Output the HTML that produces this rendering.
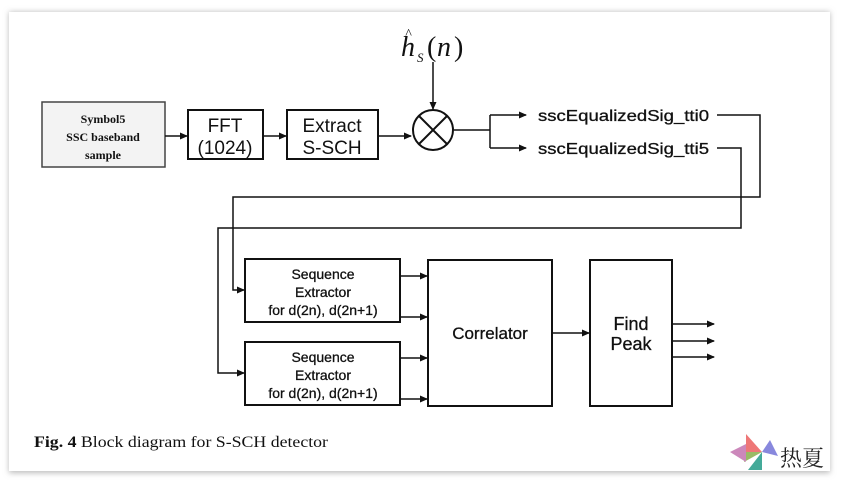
<!DOCTYPE html>
<html><head><style>
body{margin:0;background:#fff;}
</style></head><body>
<svg width="842" height="483" viewBox="0 0 842 483" xmlns="http://www.w3.org/2000/svg" style="display:block">
<defs>
<filter id="sh" x="-5%" y="-5%" width="110%" height="110%"><feGaussianBlur stdDeviation="3"/></filter>
<marker id="a" markerWidth="8" markerHeight="8" refX="7" refY="4" orient="auto" markerUnits="userSpaceOnUse"><path d="M0,0.5 L8,4 L0,7.5z" fill="#111"/></marker>
</defs>
<rect width="842" height="483" fill="#fff"/>
<rect x="9" y="12" width="821" height="461" fill="#bbb" filter="url(#sh)"/>
<rect x="9" y="12" width="821" height="459" fill="#fff"/>
<g font-family="Liberation Sans, sans-serif" fill="#111" stroke="#111">
<rect x="42" y="102" width="123" height="65" fill="#f3f3f3" stroke="#444" stroke-width="1.5"/>
<g stroke="none" font-family="Liberation Serif, serif" font-weight="bold" font-size="12" text-anchor="middle">
<text x="103" y="123">Symbol5</text><text x="103" y="141">SSC baseband</text><text x="103" y="159">sample</text></g>
<rect x="188" y="110" width="75" height="49" fill="#fff" stroke-width="2"/>
<rect x="287" y="110" width="91" height="49" fill="#fff" stroke-width="2"/>
<g stroke="none" font-size="19" text-anchor="middle" stroke="#111" stroke-width="0.3">
<text x="225" y="132">FFT</text><text x="225" y="154">(1024)</text>
<text x="332" y="132">Extract</text><text x="332" y="154">S-SCH</text></g>
<g stroke-width="1.5" fill="none">
<line x1="165" y1="136" x2="187" y2="136" marker-end="url(#a)"/>
<line x1="263" y1="136" x2="286" y2="136" marker-end="url(#a)"/>
<line x1="378" y1="136" x2="411" y2="136" marker-end="url(#a)"/>
<line x1="433" y1="62" x2="433" y2="109" marker-end="url(#a)"/>
</g>
<circle cx="433" cy="130" r="20" fill="#fff" stroke-width="2"/>
<line x1="419" y1="116" x2="447" y2="144" stroke-width="2"/>
<line x1="447" y1="116" x2="419" y2="144" stroke-width="2"/>
<g stroke="none" font-family="Liberation Serif, serif" font-style="italic">
<text x="401" y="56" font-size="28">h</text><text x="405" y="38" font-size="14">^</text>
<text x="417" y="62" font-size="13">S</text><text x="427" y="56" font-size="28" font-style="normal">(</text><text x="437" y="56" font-size="28">n</text><text x="454" y="56" font-size="28" font-style="normal">)</text></g>
<g stroke-width="1.5" fill="none">
<polyline points="454,130 490,130"/>
<polyline points="490,115 490,148"/>
<line x1="490" y1="115" x2="526" y2="115" marker-end="url(#a)"/>
<line x1="490" y1="148" x2="526" y2="148" marker-end="url(#a)"/>
<polyline points="717,115 760,115 760,197 233,197 233,290 244,290" marker-end="url(#a)"/>
<polyline points="717,148 741,148 741,228 218,228 218,373 244,373" marker-end="url(#a)"/>
</g>
<g stroke="#111" stroke-width="0.3" font-size="16"><text x="538" y="121" textLength="171" lengthAdjust="spacingAndGlyphs">sscEqualizedSig_tti0</text><text x="538" y="154" textLength="171" lengthAdjust="spacingAndGlyphs">sscEqualizedSig_tti5</text></g>
<rect x="245" y="259" width="155" height="63" fill="#fff" stroke-width="2"/>
<rect x="245" y="342" width="155" height="63" fill="#fff" stroke-width="2"/>
<rect x="428" y="260" width="124" height="146" fill="#fff" stroke-width="2"/>
<rect x="590" y="260" width="82" height="146" fill="#fff" stroke-width="2"/>
<g stroke="#111" stroke-width="0.3" font-size="14" text-anchor="middle">
<text x="323" y="279">Sequence</text><text x="323" y="297">Extractor</text><text x="323" y="315">for  d(2n), d(2n+1)</text>
<text x="323" y="362">Sequence</text><text x="323" y="380">Extractor</text><text x="323" y="398">for  d(2n), d(2n+1)</text>
<text x="490" y="339" font-size="17">Correlator</text>
<text x="631" y="330" font-size="18">Find</text><text x="631" y="350" font-size="18">Peak</text></g>
<g stroke-width="1.5" fill="none">
<line x1="400" y1="276" x2="427" y2="276" marker-end="url(#a)"/>
<line x1="400" y1="317" x2="427" y2="317" marker-end="url(#a)"/>
<line x1="400" y1="358" x2="427" y2="358" marker-end="url(#a)"/>
<line x1="400" y1="399" x2="427" y2="399" marker-end="url(#a)"/>
<line x1="552" y1="333" x2="589" y2="333" marker-end="url(#a)"/>
<line x1="672" y1="324" x2="714" y2="324" marker-end="url(#a)"/>
<line x1="672" y1="341" x2="714" y2="341" marker-end="url(#a)"/>
<line x1="672" y1="357" x2="714" y2="357" marker-end="url(#a)"/>
</g>
<g stroke="none" font-family="Liberation Serif, serif" font-size="16">
<text x="34" y="447" textLength="294" lengthAdjust="spacingAndGlyphs"><tspan font-weight="bold">Fig. 4</tspan>  Block diagram for S-SCH detector</text></g>
</g>
<g>
<polygon points="746,434 762,452 746,452" fill="#e77"/>
<polygon points="762,452 744,462 744,452" fill="#9b6"/>
<polygon points="762,452 748,470 762,470" fill="#4a9"/>
<polygon points="762,452 778,456 770,440" fill="#88d"/>
<polygon points="730,452 746,444 746,462" fill="#c8b"/>
<text x="780" y="466" font-family="Noto Serif CJK SC, serif" font-size="22" fill="#222">热夏</text>
</g>
</svg>
</body></html>
